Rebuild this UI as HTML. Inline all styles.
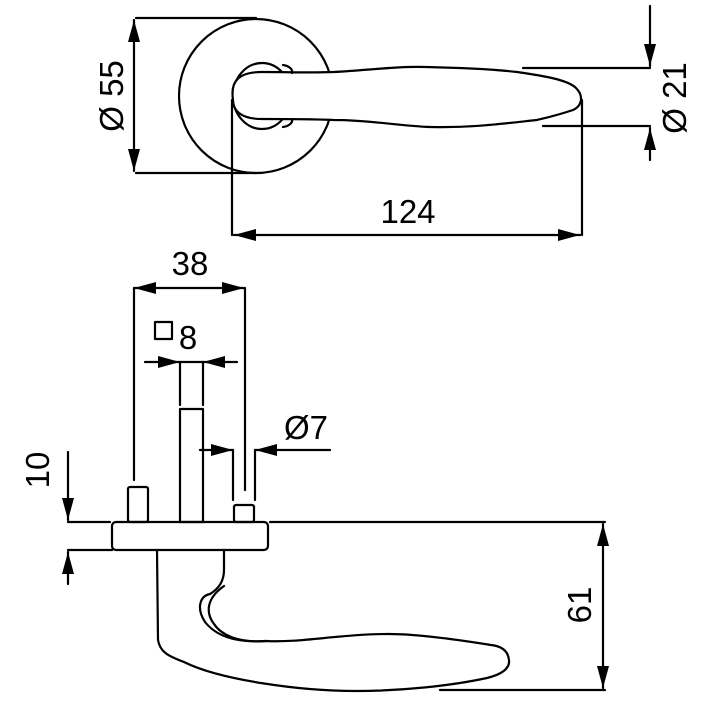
<!DOCTYPE html>
<html><head><style>html,body{margin:0;padding:0;background:#fff}svg{display:block}</style></head>
<body>
<svg width="709" height="709" viewBox="0 0 709 709" xmlns="http://www.w3.org/2000/svg">
<defs>
<marker id="a" viewBox="0 0 22 12" refX="22" refY="6" markerWidth="22" markerHeight="12" markerUnits="userSpaceOnUse" orient="auto-start-reverse" preserveAspectRatio="none"><path d="M0,0L22,6L0,12Z" fill="#000"/></marker>
</defs>
<g fill="none" stroke="#000" stroke-width="2.2" stroke-linecap="round" stroke-linejoin="round">
<!-- TOP VIEW -->
<circle cx="256" cy="96" r="77"/>
<line x1="136" y1="18" x2="256" y2="18"/>
<line x1="136" y1="173" x2="256" y2="173"/>
<line x1="134" y1="20" x2="134" y2="171" marker-start="url(#a)" marker-end="url(#a)"/>
<ellipse cx="262" cy="96" rx="29" ry="33"/>
<path d="M233,100 C230,80 240,72 262,72 C290,72 310,73 334,72 C370,70 400,66 426,67 C470,68 500,70 517,72 C545,76 568,80 576,88 C584,96 582,106 573,110 C555,116 545,118 537,120 C500,124 470,128 430,127 C400,126 370,120 334,120 C310,119 290,119 262,119 C240,119 233,110 233,100 Z" fill="#fff"/>
<path d="M283,65 C290,66 293,70 292,73"/><path d="M283,127 C290,126 293,122 292,119"/>
<line x1="232" y1="100" x2="232" y2="235"/>
<line x1="582" y1="100" x2="582" y2="235"/>
<line x1="234" y1="235" x2="580" y2="235" marker-start="url(#a)" marker-end="url(#a)"/>
<line x1="523" y1="68" x2="650" y2="68"/>
<line x1="543" y1="126" x2="650" y2="126"/>
<line x1="650" y1="6" x2="650" y2="66" marker-end="url(#a)"/>
<line x1="650" y1="160" x2="650" y2="128" marker-end="url(#a)"/>
<!-- BOTTOM VIEW -->
<line x1="134" y1="288" x2="244" y2="288" marker-start="url(#a)" marker-end="url(#a)"/>
<line x1="134" y1="288" x2="134" y2="480"/>
<line x1="245" y1="288" x2="245" y2="490"/>
<rect x="155" y="322" width="17" height="17"/>
<line x1="145" y1="362" x2="180" y2="362" marker-end="url(#a)"/>
<line x1="237" y1="362" x2="203" y2="362" marker-end="url(#a)"/>
<line x1="180" y1="362" x2="203" y2="362"/>
<line x1="180" y1="362" x2="180" y2="405"/>
<line x1="203" y1="362" x2="203" y2="405"/>
<rect x="180" y="409" width="23" height="113"/>
<line x1="200" y1="450" x2="233" y2="450" marker-end="url(#a)"/>
<line x1="330" y1="450" x2="255" y2="450" marker-end="url(#a)"/>
<line x1="233" y1="450" x2="233" y2="500"/>
<line x1="255" y1="450" x2="255" y2="500"/>
<rect x="234" y="505" width="20" height="17" rx="2"/>
<rect x="128" y="487" width="20" height="35" rx="2"/>
<rect x="112" y="522" width="156" height="28" rx="4"/>
<line x1="68" y1="522" x2="110" y2="522"/>
<line x1="68" y1="550" x2="112" y2="550"/>
<line x1="270" y1="522" x2="605" y2="522"/>
<line x1="68" y1="452" x2="68" y2="520" marker-end="url(#a)"/>
<line x1="68" y1="584" x2="68" y2="552" marker-end="url(#a)"/>
<line x1="603" y1="524" x2="603" y2="688" marker-start="url(#a)" marker-end="url(#a)"/>
<line x1="440" y1="690" x2="605" y2="690"/>
<path d="M157,550 L158,640 C160,652 168,656 184,662 C220,680 300,691 356,691 C400,691 450,686 487,678 C503,674 510,668 509,660 C508,650 500,646 491,645 C460,640 420,634 389,634 C340,634 300,643 266,641 C235,643 216,636 205,622 C196,608 200,596 210,594 C220,588 224,580 224,570 L224,550"/>
<path d="M266,641 C240,643 222,636 214,624 C205,612 207,598 224,586"/>
</g>
<g font-family="Liberation Sans, sans-serif" font-size="33" fill="#000">
<text x="408" y="223" text-anchor="middle">124</text>
<text transform="translate(123,96) rotate(-90)" text-anchor="middle">Ø 55</text>
<text transform="translate(686,98) rotate(-90)" text-anchor="middle">Ø 21</text>
<text x="190" y="275" text-anchor="middle">38</text>
<text x="188" y="349" text-anchor="middle">8</text>
<text x="306" y="439" text-anchor="middle">Ø7</text>
<text transform="translate(49,470) rotate(-90)" text-anchor="middle">10</text>
<text transform="translate(591,605) rotate(-90)" text-anchor="middle">61</text>
</g>
</svg>
</body></html>
